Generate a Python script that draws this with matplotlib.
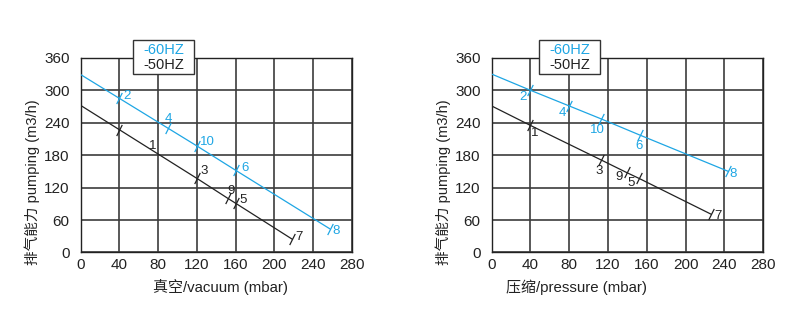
"""Pumping capacity vs vacuum / pressure, 50 Hz and 60 Hz, two side-by-side panels."""
import matplotlib
matplotlib.use("Agg")
import matplotlib.pyplot as plt
from matplotlib.path import Path as MPath
from matplotlib.patches import Rectangle

plt.rcParams["font.family"] = ["Liberation Sans", "Noto Sans CJK SC"]

BLUE = "#1EA6E4"
BLACK = "#222222"

# ---- data ----
# vacuum panel
VAC_60_START = 329
VAC_60_X = [40, 90, 120, 160, 257]
VAC_60_Y = [285, 230, 197, 152, 44]
VAC_60_LAB = ["2", "4", "10", "6", "8"]

VAC_50_START = 272
VAC_50_X = [40, 120, 152, 160, 218]
VAC_50_Y = [227, 137, 100, 91, 25]
VAC_50_LAB = ["1", "3", "9", "5", "7"]

# pressure panel
PRS_60_START = 330
PRS_60_X = [40, 80, 113, 153, 244]
PRS_60_Y = [300, 271, 247, 217, 150]
PRS_60_LAB = ["2", "4", "10", "6", "8"]

PRS_50_START = 271
PRS_50_X = [40, 113, 139, 152, 226]
PRS_50_Y = [235, 171, 148, 137, 71]
PRS_50_LAB = ["1", "3", "9", "5", "7"]

XTICKS = [0, 40, 80, 120, 160, 200, 240, 280]
YTICKS = [0, 60, 120, 180, 240, 300, 360]

# label offsets in pixels (layout only)
VAC_60_OFF = [(8, 2), (0, 9), (10, 4), (9, 2), (6, -2)]
VAC_50_OFF = [(33, -16), (7, 7), (3, 7), (7, 3), (7, 2)]
PRS_60_OFF = [(-7, -7), (-7, -7), (-4, -11), (-1, -11), (5, -3)]
PRS_50_OFF = [(4, -8), (-2, -11), (-7, -5), (-8, -5), (7, -2)]

TICK = MPath([(-0.5, -1.0), (0.5, 1.0)], [MPath.MOVETO, MPath.LINETO])


def series(ax, start, xs, ys, labs, offs, color):
    ax.plot([0] + xs, [start] + ys, color=color, lw=0.9, zorder=3)
    ax.plot(xs, ys, ls="none", marker=TICK, markersize=8, mec=color,
            mew=0.9, zorder=4)
    for x, y, t, (dx, dy) in zip(xs, ys, labs, offs):
        ax.annotate(t, (x, y), xytext=(dx, dy), textcoords="offset pixels",
                    ha="center", va="center", fontsize=9.5, color=color)


def style(ax):
    ax.set_xlim(0, 280)
    ax.set_ylim(0, 360)
    ax.set_xticks(XTICKS)
    ax.set_yticks(YTICKS)
    ax.tick_params(length=0, labelsize=11, colors="#222")
    ax.tick_params(axis="y", pad=8)
    ax.tick_params(axis="x", pad=4)
    ax.grid(True, color="#3c3c3c", lw=1.2)
    ax.set_axisbelow(True)
    for s in ax.spines.values():
        s.set_color("#222")
        s.set_linewidth(1.0)


def legend_box(fig, x0):
    fig.add_artist(Rectangle((x0 / 800, 1 - 74 / 331), 61 / 800, 34 / 331,
                             transform=fig.transFigure, facecolor="white",
                             edgecolor="#333", lw=1.0, zorder=10))
    fig.text((x0 + 31) / 800, 1 - 50 / 331, "-60HZ", color=BLUE, fontsize=10.5,
             ha="center", va="center", zorder=11)
    fig.text((x0 + 31) / 800, 1 - 65 / 331, "-50HZ", color=BLACK, fontsize=10.5,
             ha="center", va="center", zorder=11)


def main():
    fig = plt.figure(figsize=(8.0, 3.31), dpi=100)
    ax1 = fig.add_axes([0.1009, 0.2372, 0.339, 0.588])
    ax2 = fig.add_axes([0.6146, 0.2372, 0.3395, 0.588])

    for ax in (ax1, ax2):
        style(ax)

    series(ax1, VAC_60_START, VAC_60_X, VAC_60_Y, VAC_60_LAB, VAC_60_OFF, BLUE)
    series(ax1, VAC_50_START, VAC_50_X, VAC_50_Y, VAC_50_LAB, VAC_50_OFF, BLACK)
    series(ax2, PRS_60_START, PRS_60_X, PRS_60_Y, PRS_60_LAB, PRS_60_OFF, BLUE)
    series(ax2, PRS_50_START, PRS_50_X, PRS_50_Y, PRS_50_LAB, PRS_50_OFF, BLACK)

    ylab = "排气能力 pumping (m3/h)"
    fig.text(32 / 800, 1 - 182 / 331, ylab, rotation=90, ha="center",
             va="center", fontsize=10.5, color="#222")
    fig.text(443 / 800, 1 - 182 / 331, ylab, rotation=90, ha="center",
             va="center", fontsize=10.5, color="#222")
    fig.text(220 / 800, 1 - 287 / 331, "真空/vacuum (mbar)", ha="center",
             va="center", fontsize=10.8, color="#222")
    fig.text(577 / 800, 1 - 287 / 331, "压缩/pressure (mbar)", ha="center",
             va="center", fontsize=10.8, color="#222")

    legend_box(fig, 133)
    legend_box(fig, 539)

    fig.savefig("out.png", dpi=100)
    plt.close(fig)


if __name__ == "__main__":
    main()
